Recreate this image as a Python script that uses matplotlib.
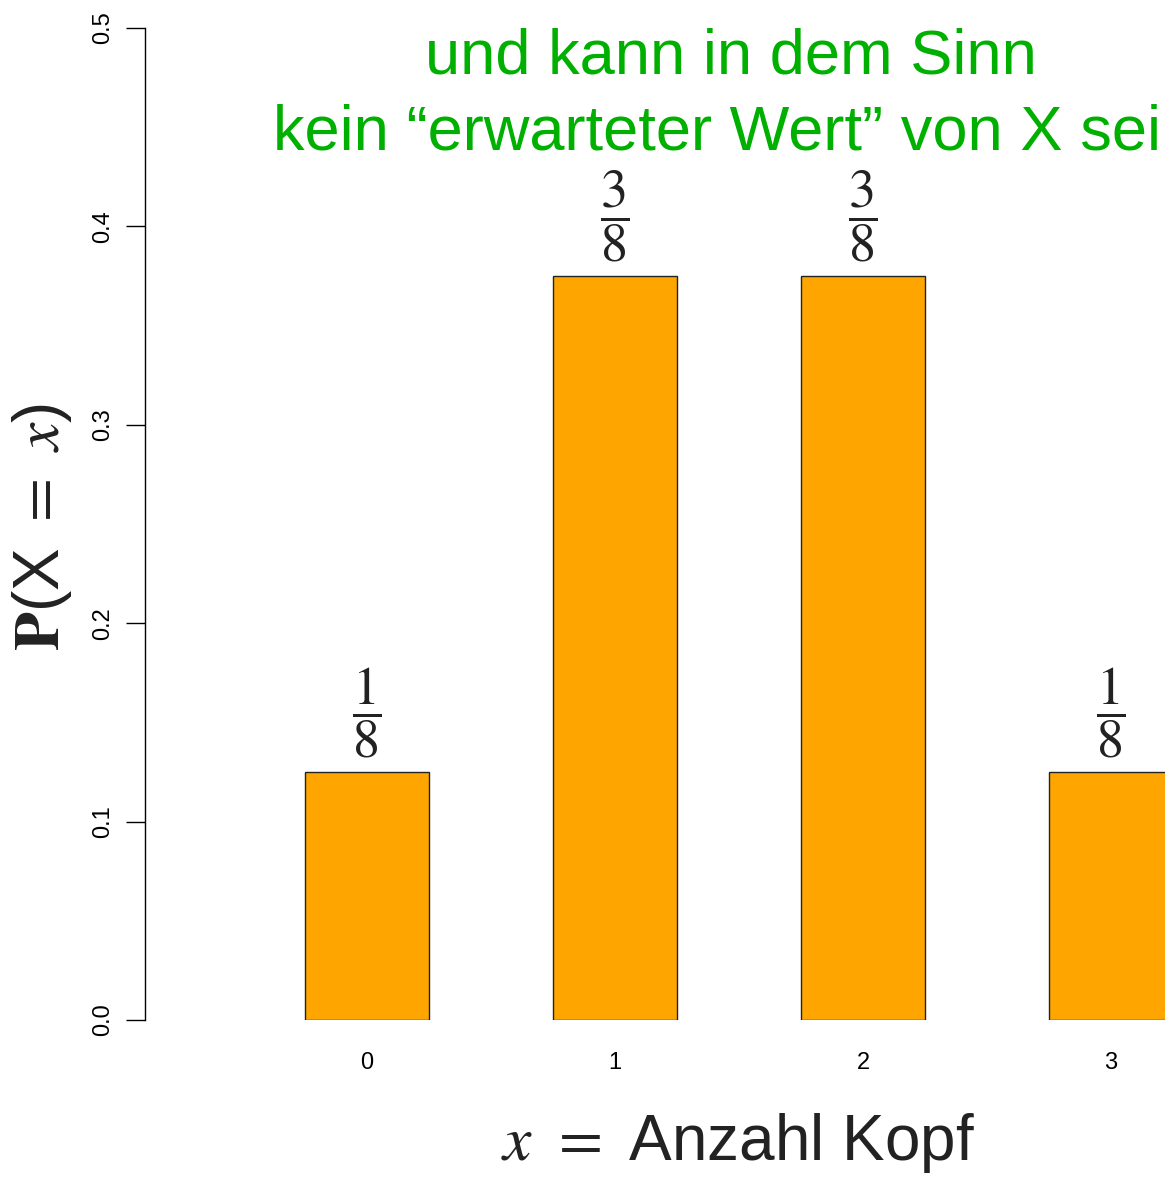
import matplotlib.pyplot as plt

plt.rcParams['font.family'] = ['Liberation Sans', 'DejaVu Sans']
plt.rcParams['mathtext.fontset'] = 'stix'

# Daten: Anzahl Kopf bei drei Münzwürfen
k_werte = [0, 1, 2, 3]
wahrscheinlichkeit = [1/8, 3/8, 3/8, 1/8]
bruch_labels = [r'$\dfrac{1}{8}$', r'$\dfrac{3}{8}$', r'$\dfrac{3}{8}$', r'$\dfrac{1}{8}$']
y_ticks = [0.0, 0.1, 0.2, 0.3, 0.4, 0.5]

W, H = 1165, 1179
fig = plt.figure(figsize=(W / 100, H / 100), dpi=100)
ax = fig.add_axes([145 / W, 1 - 1020 / H, (W - 145) / W, (1020 - 28) / H])

ax.bar(k_werte, wahrscheinlichkeit, width=0.5, color='#FFA500', edgecolor='#222222', linewidth=1)

ax.set_xlim(-0.895, 3.218)
ax.set_ylim(0, 0.5)

for s in ['top', 'right', 'bottom']:
    ax.spines[s].set_visible(False)
ax.spines['left'].set_linewidth(1)

ax.set_yticks(y_ticks)
ax.set_yticklabels([f'{v:.1f}' for v in y_ticks], rotation=90, va='center', fontsize=17)
ax.tick_params(axis='y', length=14, width=1, pad=8)
ax.set_xticks(k_werte)
ax.set_xticklabels([str(k) for k in k_werte], fontsize=17)
ax.tick_params(axis='x', length=0, pad=23)

# Brüche über den Balken
for k, p, lab in zip(k_werte, wahrscheinlichkeit, bruch_labels):
    ax.text(k, p + 0.006, lab, ha='center', va='bottom', fontsize=39, color='#222222')

# Achsenbeschriftungen
fig.text(42 / W, 1 - 527 / H, r'$\mathbf{P}$(X $=$ $x$)', rotation=90,
         ha='center', va='center', fontsize=46, color='#222222')
fig.text(738 / W, 1 - 1143 / H, r'$x$ $=$ Anzahl Kopf', ha='center', va='center',
         fontsize=46, color='#222222')

# grüner Text oben (rechts wie im Original abgeschnitten)
fig.text(731 / W, 1 - 57 / H, 'und kann in dem Sinn', ha='center', va='center',
         fontsize=45.5, color='#00B000')
fig.text(273 / W, 1 - 133 / H, 'kein \u201cerwarteter Wert\u201d von X sein.', ha='left', va='center',
         fontsize=45.5, color='#00B000')

fig.savefig('out.png', dpi=100)
